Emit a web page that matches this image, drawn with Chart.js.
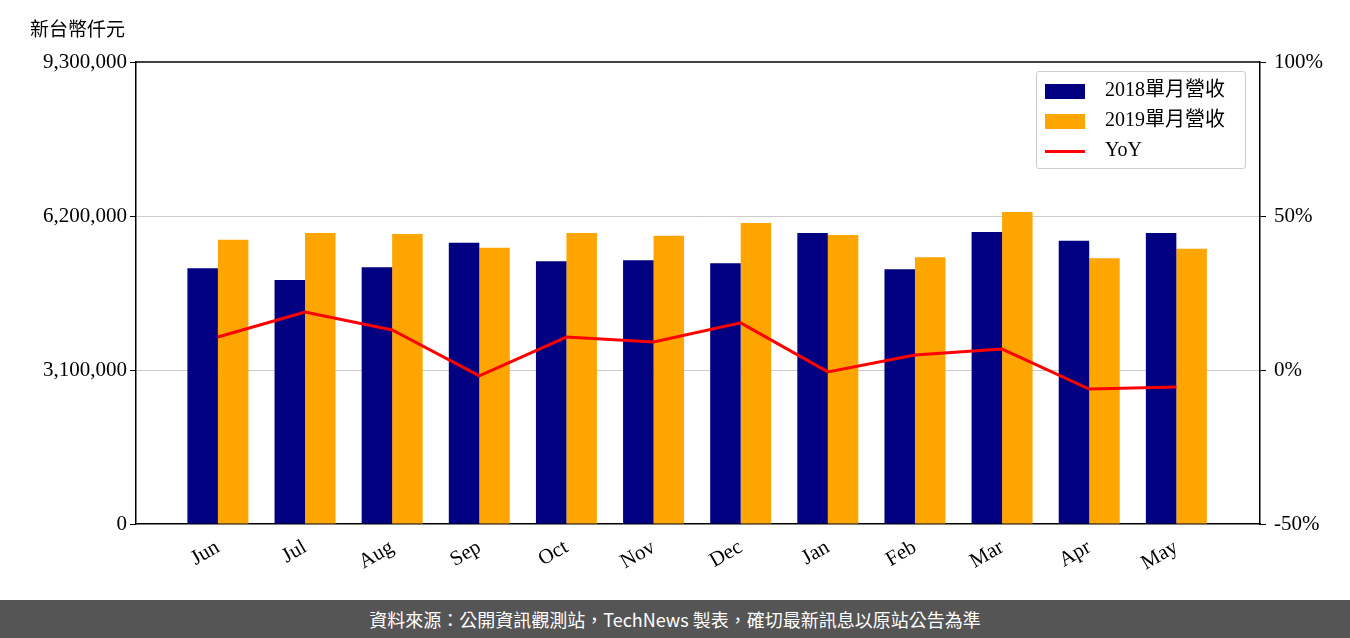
<!DOCTYPE html>
<html><head><meta charset="utf-8">
<script src="https://cdn.jsdelivr.net/npm/chart.js@4"></script>
<style>
body{margin:0;width:1350px;height:638px;background:#fff;position:relative;overflow:hidden;font-family:"Liberation Serif","Noto Sans CJK TC",serif}
#wrap{position:absolute;left:0;top:0;width:1350px;height:600px}
#foot{position:absolute;left:0;top:600px;width:1350px;height:38px;background:#555;color:#fff;font:18px "Noto Sans CJK TC","Noto Sans",sans-serif;text-align:center;line-height:38px}
#unit{position:absolute;left:30px;top:14px;font:19px "Noto Sans CJK TC",sans-serif;color:#000}
#legend{position:absolute;left:1036px;top:71px;width:208px;height:96px;border:1px solid #ccc;border-radius:3px;background:rgba(255,255,255,.85);font:20px "Liberation Serif","Noto Sans CJK TC",serif}
.it{position:absolute;left:8px;height:30px;line-height:30px}
.sw{display:inline-block;width:40px;height:15px;vertical-align:middle;margin-right:20px}
</style></head><body>
<div id="wrap"><canvas id="c" width="1350" height="600"></canvas></div>
<div id="unit">新台幣仟元</div>
<div id="legend">
<div class="it" style="top:2px"><span class="sw" style="background:#000080"></span>2018單月營收</div>
<div class="it" style="top:32px"><span class="sw" style="background:#FFA500"></span>2019單月營收</div>
<div class="it" style="top:62px"><span class="sw" style="height:3px;background:#f00"></span>YoY</div>
</div>
<div id="foot">資料來源：公開資訊觀測站，TechNews 製表，確切最新訊息以原站公告為準</div>
<script>
const categories=["Jun","Jul","Aug","Sep","Oct","Nov","Dec","Jan","Feb","Mar","Apr","May"];
const rev2018=[5150000,4910000,5170000,5660000,5290000,5310000,5250000,5860000,5130000,5880000,5700000,5860000];
const rev2019=[5720000,5860000,5840000,5560000,5860000,5800000,6060000,5820000,5370000,6280000,5350000,5540000];
const yoy=[10.7,18.8,13.0,-1.9,10.7,9.1,15.3,-0.6,4.9,6.8,-6.2,-5.5];
const leftTicks=[0,3100000,6200000,9300000];
const rightTicks=[-50,0,50,100];
const font={family:"Liberation Serif",size:21};
const pts=a=>a.map((v,i)=>({x:i,y:v}));
new Chart(document.getElementById('c'),{
 data:{datasets:[
  {type:'line',data:pts(yoy),yAxisID:'y1',borderColor:'#f00',borderWidth:3,pointRadius:0,order:0},
  {type:'bar',data:pts(rev2018),backgroundColor:'#000080',yAxisID:'y',order:1},
  {type:'bar',data:pts(rev2019),backgroundColor:'#FFA500',yAxisID:'y',order:1}]},
 options:{responsive:false,animation:false,devicePixelRatio:1,
  layout:{padding:{top:62,left:0,right:0,bottom:0}},
  datasets:{bar:{categoryPercentage:0.70,barPercentage:1}},
  plugins:{legend:{display:false},tooltip:{enabled:false}},
  scales:{
   x:{type:'linear',offset:false,min:-0.94,max:11.96,afterBuildTicks:a=>{a.ticks=categories.map((c,i)=>({value:i}))},
      grid:{display:false},border:{color:'#000',width:1.5},
      ticks:{color:'#000',font,maxRotation:30,minRotation:30,autoSkip:false,callback:v=>categories[v]},afterFit:s=>{s.height=76}},
   y:{min:0,max:9300000,afterBuildTicks:a=>{a.ticks=leftTicks.map(v=>({value:v}))},
      ticks:{color:'#000',font,callback:v=>v.toLocaleString('en-US')},
      grid:{color:c=>(c.tick&&(c.tick.value==3100000||c.tick.value==6200000))?'#ccc':'rgba(0,0,0,0)',tickColor:'#000',tickLength:6},
      border:{color:'#000',width:1.5},afterFit:s=>{s.width=136}},
   y1:{position:'right',min:-50,max:100,afterBuildTicks:a=>{a.ticks=rightTicks.map(v=>({value:v}))},
      ticks:{color:'#000',font,padding:8,callback:v=>v+'%'},
      grid:{drawOnChartArea:false,tickColor:'#000',tickLength:6},border:{color:'#000',width:1.5},afterFit:s=>{s.width=90}}
  }},
 plugins:[{id:'top',afterDraw(ch){const a=ch.chartArea,c=ch.ctx;c.save();c.strokeStyle='#000';c.lineWidth=1.5;c.beginPath();c.moveTo(a.left,a.top);c.lineTo(a.right,a.top);c.stroke();c.restore();}}]
});
</script>
</body></html>
